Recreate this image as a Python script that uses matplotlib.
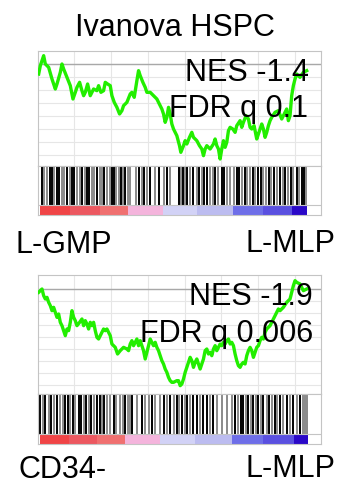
import numpy as np
import matplotlib.pyplot as plt

plt.rcParams['font.family'] = ['Liberation Sans', 'DejaVu Sans']

# ---- data (rank position, running enrichment score in a.u.) ----
title = 'Ivanova HSPC'

rank_top = [25, 30, 40, 45, 55, 65, 75, 80, 90, 95, 100, 110, 120, 128, 135, 140, 148, 155, 160, 165,
            172, 180, 185, 190, 200, 205, 212, 220, 225, 232, 240, 245, 252, 260, 268, 275, 280, 290, 300, 305,
            312, 320, 325, 330, 338, 345, 350, 360, 370, 380, 390, 395, 400, 405, 410, 415, 420, 425, 430, 440,
            448, 452, 460, 465, 470, 478, 485, 490, 500, 508, 515, 520, 525, 530, 540, 550, 555, 560, 565, 570,
            575, 580, 585, 590, 595, 600, 608, 615, 620, 630, 635, 640, 648, 655, 660, 665, 672, 680, 685, 690,
            695, 700, 705, 710, 715, 720, 725, 735, 745, 755, 765, 770, 775, 780, 785, 790, 795, 800, 810, 820, 830]
es_top = [-30, -5, 25, 0, -10, -45, -75, -60, -25, 0, -15, -40, -65, -105, -85, -70, -55, -80, -95, -85,
          -60, -95, -85, -75, -80, -65, -85, -80, -55, -60, -65, -95, -115, -130, -150, -140, -125, -115, -90, -85,
          -100, -50, -20, -35, -55, -70, -85, -85, -95, -105, -125, -135, -150, -175, -160, -130, -150, -180, -195, -215,
          -245, -265, -245, -230, -240, -220, -205, -220, -230, -245, -255, -275, -255, -245, -255, -240, -225, -245, -255, -285,
          -255, -230, -250, -235, -200, -190, -195, -205, -185, -170, -190, -175, -155, -165, -190, -195, -185, -225, -210, -195,
          -180, -195, -220, -205, -185, -170, -160, -145, -140, -165, -145, -135, -170, -155, -95, -65, -45, -30, -40, -25, -20]

rank_bot = [25, 30, 35, 40, 45, 50, 55, 60, 65, 70, 75, 80, 85, 90, 95, 100, 105, 110, 115, 120,
            125, 130, 135, 140, 148, 155, 160, 165, 170, 175, 180, 185, 190, 195, 200, 205, 210, 215, 220, 225,
            230, 240, 245, 255, 262, 270, 280, 290, 295, 300, 305, 310, 315, 320, 325, 330, 340, 345, 350, 355,
            360, 365, 370, 375, 380, 385, 390, 395, 400, 405, 410, 415, 420, 425, 430, 440, 445, 450, 455, 460,
            465, 470, 475, 480, 485, 490, 495, 500, 505, 510, 515, 520, 525, 530, 535, 540, 545, 550, 555, 560,
            565, 570, 575, 580, 585, 590, 595, 600, 605, 610, 615, 620, 625, 630, 635, 640, 645, 650, 655, 660,
            665, 670, 675, 680, 685, 690, 695, 700, 705, 710, 720, 730, 740, 745, 750, 760, 770, 780, 790, 795,
            800, 810, 820, 830]
es_bot = [-10, -5, 0, -20, -30, -25, -40, -50, -65, -55, -70, -85, -75, -100, -110, -125, -140, -120, -125, -100,
          -65, -85, -95, -110, -100, -90, -110, -95, -105, -120, -100, -110, -100, -125, -145, -150, -140, -130, -120, -125,
          -120, -140, -165, -175, -195, -185, -175, -180, -185, -165, -155, -170, -160, -150, -170, -155, -185, -210, -190, -170,
          -150, -160, -170, -160, -175, -185, -200, -215, -225, -240, -250, -265, -275, -280, -280, -275, -275, -290, -285, -270,
          -250, -235, -220, -205, -215, -235, -220, -210, -225, -240, -225, -210, -185, -180, -195, -190, -200, -180, -170, -185,
          -175, -165, -170, -160, -165, -155, -150, -165, -160, -170, -195, -215, -230, -235, -225, -220, -225, -200, -185, -175,
          -185, -205, -190, -175, -170, -155, -145, -150, -130, -120, -110, -90, -70, -60, -65, -55, -40, -30, 10, 25,
          20, 15, -5, 0]

# gene-set hits (rank, 'k' black / 'g' grey)
hits_top = [(35, 'k'), (42, 'g'), (50, 'g'), (58, 'k'), (66, 'k'), (72, 'g'), (80, 'k'), (86, 'k'), (95, 'g'),
            (102, 'g'), (110, 'k'), (118, 'g'), (125, 'k'), (131, 'k'), (140, 'g'), (148, 'g'), (156, 'k'),
            (163, 'g'), (170, 'k'), (177, 'k'), (185, 'g'), (192, 'g'), (200, 'k'), (208, 'g'), (215, 'g'),
            (222, 'k'), (230, 'g'), (238, 'g'), (245, 'k'), (252, 'k'), (258, 'g'), (265, 'g'), (272, 'k'),
            (278, 'g'), (284, 'k'), (292, 'g'), (300, 'g'), (318, 'g'), (325, 'k'), (335, 'g'), (342, 'k'),
            (350, 'g'), (360, 'k'), (375, 'g'), (385, 'k'), (400, 'g'), (410, 'k'), (418, 'g'), (445, 'k'),
            (452, 'g'), (458, 'k'), (465, 'g'), (472, 'k'), (480, 'g'), (490, 'k'), (500, 'g'), (508, 'k'),
            (515, 'g'), (522, 'k'), (530, 'k'), (540, 'g'), (548, 'g'), (556, 'k'), (565, 'g'), (575, 'k'),
            (582, 'k'), (590, 'g'), (600, 'g'), (612, 'g'), (620, 'k'), (628, 'k'), (636, 'g'), (645, 'k'),
            (652, 'g'), (660, 'g'), (668, 'k'), (676, 'g'), (685, 'k'), (692, 'k'), (700, 'g'), (708, 'g'),
            (716, 'k'), (724, 'g'), (732, 'k'), (742, 'g'), (750, 'k'), (758, 'g'), (766, 'k'), (775, 'g'),
            (782, 'k'), (790, 'g'), (800, 'k'), (808, 'g'), (815, 'k'), (822, 'k'), (828, 'g')]
hits_bot = [(30, 'k'), (38, 'g'), (45, 'k'), (55, 'g'), (62, 'k'), (70, 'g'), (80, 'k'), (88, 'g'), (98, 'g'),
            (105, 'k'), (112, 'k'), (120, 'g'), (128, 'k'), (135, 'g'), (145, 'k'), (152, 'k'), (160, 'g'),
            (168, 'k'), (175, 'g'), (182, 'k'), (190, 'g'), (200, 'k'), (208, 'k'), (215, 'g'), (222, 'k'),
            (230, 'g'), (240, 'g'), (250, 'k'), (258, 'g'), (268, 'g'), (278, 'g'), (285, 'k'), (292, 'g'),
            (300, 'g'), (305, 'k'), (320, 'g'), (335, 'k'), (345, 'g'), (355, 'g'), (365, 'k'), (375, 'g'),
            (390, 'g'), (400, 'k'), (410, 'g'), (420, 'k'), (430, 'g'), (440, 'k'), (448, 'g'), (455, 'k'),
            (465, 'g'), (472, 'k'), (480, 'g'), (490, 'k'), (500, 'k'), (510, 'g'), (520, 'k'), (530, 'k'),
            (540, 'g'), (548, 'k'), (560, 'g'), (575, 'g'), (590, 'g'), (605, 'g'), (615, 'k'), (625, 'g'),
            (632, 'k'), (640, 'k'), (648, 'g'), (655, 'k'), (662, 'g'), (670, 'k'), (678, 'g'), (685, 'k'),
            (692, 'g'), (700, 'k'), (710, 'g'), (718, 'k'), (726, 'g'), (735, 'k'), (742, 'g'), (750, 'k'),
            (760, 'g'), (770, 'k'), (780, 'g'), (790, 'k'), (800, 'g'), (810, 'k'), (818, 'g'), (826, 'g'),
            (832, 'g')]

# ranked-list colour strip: (start rank, end rank, colour)
strip_top = [(28, 120, '#f04446'), (120, 210, '#ec5860'), (210, 294, '#f07070'), (294, 399, '#f4b4dc'),
             (399, 500, '#d2d2f6'), (500, 609, '#bcbcf0'), (609, 700, '#6e6ee8'), (700, 786, '#5a50e0'),
             (786, 831, '#2a08c8')]
strip_bot = [(28, 115, '#f04446'), (115, 200, '#ec5860'), (200, 283, '#f07070'), (283, 388, '#f4b4dc'),
             (388, 495, '#d2d2f6'), (495, 605, '#bcbcf0'), (605, 700, '#6e6ee8'), (700, 793, '#5a50e0'),
             (793, 835, '#2a08c8')]

panels = [
    dict(rank=rank_top, es=es_top, hits=hits_top, strip=strip_top, ylim=(-306, 39), step=39,
         nes='NES -1.4', fdr='FDR q 0.1', left='L-GMP', right='L-MLP'),
    dict(rank=rank_bot, es=es_bot, hits=hits_bot, strip=strip_bot, ylim=(-315, 42), step=36,
         nes='NES -1.9', fdr='FDR q 0.006', left='CD34-', right='L-MLP'),
]

W, H = 337, 485
fig = plt.figure(figsize=(W / 100, H / 100), dpi=100)

def fx(px):
    return px / W

def fy(py):
    return 1 - py / H

# pixel boxes: (es top, es bottom, strip bottom)
boxes = [(52, 167, 216), (276, 395, 445)]
text_pos = [dict(nes=(309, 81), fdr=(308, 117), left=(16, 253), right=(245, 252)),
            dict(nes=(313, 305), fdr=(313, 342), left=(19, 478), right=(245, 477))]

edge = '#c4c4c4'
for p, (t, b, s), tp in zip(panels, boxes, text_pos):
    x0, x1 = 38, 321
    ax = fig.add_axes([fx(x0), fy(b), fx(x1 - x0), (b - t) / H])
    ax.set_xlim(23, 873)
    ax.set_ylim(*p['ylim'])
    ax.set_xticks(np.arange(132, 873, 110.4))
    ax.set_yticks(np.arange(0, p['ylim'][0], -p['step']))
    ax.grid(True, color='#e6e6e6', lw=0.8)
    ax.tick_params(length=0, labelbottom=False, labelleft=False)
    ax.axhline(0, color='#a8a8a8', lw=1)
    ax.plot(p['rank'], p['es'], color='#22ee00', lw=2.4, zorder=3)
    for sp in ax.spines.values():
        sp.set_color(edge)

    axh = fig.add_axes([fx(x0), fy(s), fx(x1 - x0), (s - b) / H])
    axh.set_xlim(23, 873)
    axh.set_ylim(0, 1)
    axh.set_xticks([])
    axh.set_yticks([])
    for sp in axh.spines.values():
        sp.set_color(edge)
    for r, c in p['hits']:
        axh.vlines(r, 0.21, 0.98, color='black' if c == 'k' else '#8a8a8a', lw=1.4)
    for a, bnd, col in p['strip']:
        axh.axvspan(a, bnd, ymin=0.0, ymax=0.2, color=col, lw=0)
    axh.axhline(0.2, color=edge, lw=0.8)

    fig.text(fx(tp['nes'][0]), fy(tp['nes'][1]), p['nes'], ha='right', va='baseline', fontsize=22)
    fig.text(fx(tp['fdr'][0]), fy(tp['fdr'][1]), p['fdr'], ha='right', va='baseline', fontsize=22)
    fig.text(fx(tp['left'][0]), fy(tp['left'][1]), p['left'], ha='left', va='baseline', fontsize=22)
    fig.text(fx(tp['right'][0]), fy(tp['right'][1]), p['right'], ha='left', va='baseline', fontsize=22)

fig.text(fx(175), fy(36), title, ha='center', va='baseline', fontsize=22)

plt.savefig('out.png', dpi=100)
